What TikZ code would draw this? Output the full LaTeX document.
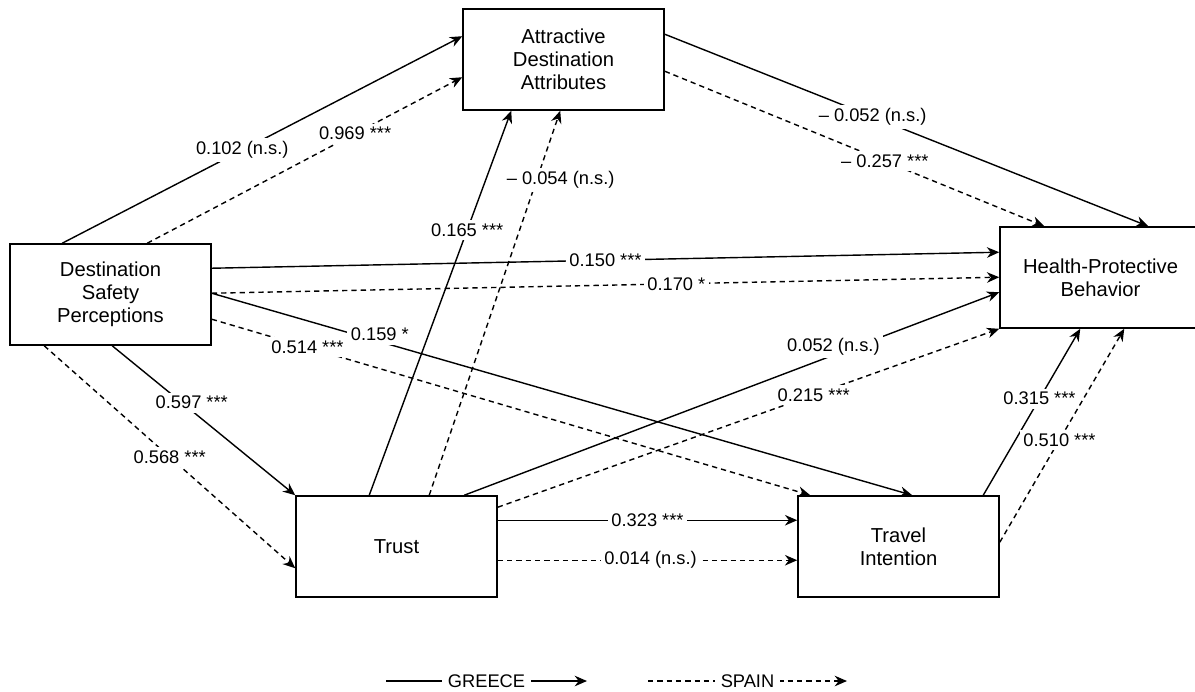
\documentclass[tikz,border=0pt]{standalone}
\usepackage{fontspec}
\setmainfont{Liberation Sans}
\usetikzlibrary{arrows.meta,calc}

\tikzset{
  box/.style={draw,line width=0.9pt,minimum width=4.02cm,minimum height=2.02cm,
    align=center,inner sep=2pt,font=\fontsize{11.5}{13.2}\selectfont},
  lab/.style={fill=white,inner sep=2pt,font=\fontsize{10.4}{12}\selectfont},
  gr/.style={line width=0.8pt,-{Stealth[length=7pt,width=6pt]}},
  sp/.style={gr,dash pattern=on 3pt off 2.3pt},
}

\begin{document}
\begin{tikzpicture}[x=0.02cm,y=-0.02cm]
\useasboundingbox (0,0) rectangle (1195,691);
\clip (0,0) rectangle (1195,691);
% ---- constructs ----
\node[box] (ada) at (563.5,59.5) {Attractive\\Destination\\Attributes};
\node[box] (dsp) at (110.5,294.5) {Destination\\Safety\\Perceptions};
\node[box] (hpb) at (1100.5,277.5) {Health-Protective\\Behavior};
\node[box] (trust) at (396.5,546.5) {Trust};
\node[box] (ti) at (898.5,546.5) {Travel\\Intention};
% ---- paths from safety perceptions ----
\draw[gr] ($(dsp.north west)+(53,0)$) -- node[lab,pos=0.45]{0.102 (n.s.)} ($(ada.north west)+(0,28)$);
\draw[sp] ($(dsp.north west)+(138,0)$) -- node[lab,pos=0.66]{0.969 ***} ($(ada.north west)+(0,69)$);
\draw[gr] ($(dsp.north east)+(0,25)$) -- node[lab,pos=0.5]{0.150 ***} ($(hpb.north west)+(0,26)$);
\draw[sp] ($(dsp.north east)+(0,50)$) -- node[lab,pos=0.59]{0.170 *} ($(hpb.north west)+(0,51)$);
\draw[gr] ($(dsp.north east)+(0,50)$) -- node[lab,pos=0.24,yshift=4pt]{0.159 *} ($(ti.north west)+(115,0)$);
\draw[sp] ($(dsp.north east)+(0,76)$) -- node[lab,pos=0.16]{0.514 ***} ($(ti.north west)+(13,0)$);
\draw[gr] ($(dsp.south west)+(103,0)$) -- node[lab,pos=0.38,xshift=0.2cm]{0.597 ***} (trust.north west);
\draw[sp] ($(dsp.south west)+(35,0)$) -- node[lab,pos=0.5]{0.568 ***} ($(trust.north west)+(0,73)$);
% ---- paths from trust ----
\draw[gr] ($(trust.north west)+(74,0)$) -- node[lab,pos=0.69]{0.165 ***} ($(ada.south west)+(49,0)$);
\draw[sp] ($(trust.north west)+(134,0)$) -- node[lab,pos=0.82,xshift=0.48cm]{– 0.054 (n.s.)} ($(ada.south west)+(98,0)$);
\draw[gr] ($(trust.north west)+(169,0)$) -- node[lab,pos=0.69,yshift=5pt]{0.052 (n.s.)} ($(hpb.north west)+(0,66)$);
\draw[sp] ($(trust.north east)+(0,12)$) -- node[lab,pos=0.63]{0.215 ***} (hpb.south west);
\draw[gr] ($(trust.north east)+(0,25)$) -- node[lab,pos=0.5]{0.323 ***} ($(ti.north west)+(0,25)$);
\draw[sp] ($(trust.north east)+(0,65)$) -- node[lab,pos=0.51]{0.014 (n.s.)} ($(ti.north west)+(0,65)$);
% ---- paths into health-protective behavior ----
\draw[gr] ($(ada.north east)+(0,26)$) -- node[lab,pos=0.43]{– 0.052 (n.s.)} ($(hpb.north west)+(149,0)$);
\draw[sp] ($(ada.north east)+(0,63)$) -- node[lab,pos=0.58]{– 0.257 ***} ($(hpb.north west)+(45,0)$);
\draw[gr] ($(ti.north west)+(186,0)$) -- node[lab,pos=0.58]{0.315 ***} ($(hpb.south west)+(81,0)$);
\draw[sp] ($(ti.north east)+(0,47)$) -- node[lab,pos=0.48]{0.510 ***} ($(hpb.south west)+(125,0)$);
% ---- legend ----
\coordinate (g0) at (386,681); \coordinate (g1) at (587,681);
\coordinate (s0) at (648,681); \coordinate (s1) at (847,681);
\draw[gr] (g0) -- node[lab,inner sep=3.5pt]{GREECE} (g1);
\draw[sp] (s0) -- node[lab,inner sep=3.5pt]{SPAIN} (s1);
\end{tikzpicture}
\end{document}
